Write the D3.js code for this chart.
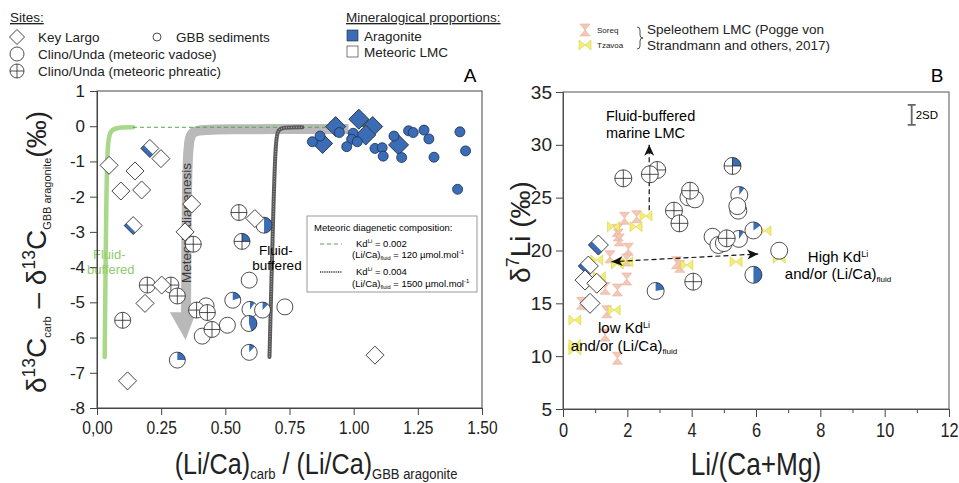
<html>
<head>
<title>Li isotopes and carbon</title>
<script src="https://cdn.jsdelivr.net/npm/d3@7/dist/d3.min.js"></script>
<style>
body { margin: 0; background: #fff; }
svg { display: block; font-family: "Liberation Sans", Arial, sans-serif; }
.tick line { stroke: #444; }
.domain { stroke: #444; }
</style>
</head>
<body>
<svg width="959" height="483"></svg>
<script>

var svg = d3.select("svg");

// ---- panel A data: [x, y, aragonite fraction]
var keyLargoA = [[0.047,-1.11,0],[0.206,-0.63,0.35],[0.249,-0.92,0],[0.148,-1.27,0],[0.093,-1.84,0],
  [0.174,-1.81,0],[0.141,-2.82,0.25],[0.369,-2.21,0],[0.343,-3.0,0],[0.615,-2.62,0],[0.252,-4.51,0],
  [0.187,-5.03,0],[0.119,-7.23,0],[1.083,-6.50,0],
  [0.93,-0.01,1],[1.02,0.20,1],[0.879,-0.49,1],[1.074,-0.01,1],[1.047,-0.25,1],[1.175,-0.53,1]];
var gbbA = [[0.839,-0.44],[0.869,-0.28],[0.944,-0.18],[0.998,-0.20],[0.992,-0.37],[1.014,-0.44],
  [0.973,-0.58],[1.083,-0.63],[1.111,-0.61],[1.115,-0.85],[1.157,-0.28],[1.187,-0.89],[1.214,-0.13],
  [1.232,-0.18],[1.274,-0.11],[1.293,-0.36],[1.313,-0.88],[1.414,-0.16],[1.436,-0.70],[1.405,-1.79]];
var vadoseA = [[0.651,-2.81,0.5],[0.593,-4.37,0],[0.529,-4.94,0.2],[0.596,-5.20,0.1],[0.645,-5.22,0.12],
  [0.732,-5.13,0],[0.592,-5.60,0.45],[0.508,-5.65,0],[0.425,-5.10,0],[0.41,-5.96,0],[0.593,-6.42,0.12],
  [0.313,-6.64,0.25]];
var phreaticA = [[0.553,-2.45,0],[0.375,-3.35,0],[0.565,-3.27,0.25],[0.196,-4.51,0],[0.288,-4.51,0],
  [0.313,-4.82,0],[0.10,-5.51,0],[0.388,-5.22,0],[0.43,-5.29,0],[0.448,-5.77,0]];

// model curves (panel A)
var kd002Thick = [[0.030,-6.55],[0.036,-2.0],[0.041,-0.5],[0.050,-0.15],[0.070,-0.04],[0.14,-0.03]];
var kd002Dash = [[0.14,-0.03],[0.95,-0.03]];
var kd004 = [[0.672,-6.55],[0.688,-2.0],[0.696,-0.5],[0.703,-0.12],[0.72,-0.03],[0.80,-0.03]];
var diagenesisArrow = [[0.98,-0.08],[0.45,-0.08],[0.37,-0.12],[0.35,-0.4],[0.347,-5.3]];
var arrowHead = [[0.284,-5.28],[0.386,-5.28],[0.345,-6.07]];

var xTicksA = [0, 0.25, 0.5, 0.75, 1.0, 1.25, 1.5];
var xTickLabelsA = ["0,00","0.25","0.50","0.75","1.00","1.25","1.50"];
var yTicksA = [1,0,-1,-2,-3,-4,-5,-6,-7,-8];

// ---- panel B data
var keyLargoB = [[1.10,20.52,0.35],[0.787,18.53,0.25],[0.684,17.2,0],[1.05,16.9,0],[0.84,15.0,0]];
var vadoseB = [[3.90,25.03,0],[4.10,24.84,0],[4.65,21.3,0],[4.83,20.52,0],[5.48,25.25,0.1],
  [5.45,23.77,0],[5.42,24.2,0],[6.72,19.98,0],[5.92,17.7,0.5],[2.88,16.17,0.22],
  [5.0,20.7,0.3],[5.47,21.1,0.1],[5.92,21.9,0.15]];
var phreaticB = [[1.875,26.83,0],[2.93,27.62,0],[2.70,27.21,0],[3.95,25.66,0],[3.45,23.77,0],
  [3.62,22.57,0],[5.09,21.15,0],[5.27,28.0,0.25],[4.05,17.05,0]];
var soreqB = [[1.91,23.05],[2.29,23.2],[1.72,21.47],[1.69,21.9],[1.75,21.0],[1.46,19.4],[2.03,20.12],
  [1.98,19.1],[3.53,18.85],[3.63,18.5],[1.31,16.42],[1.69,16.26],[1.98,17.3],[0.58,15.0],[1.36,14.2],
  [1.31,12.0],[1.69,9.8]];
var tzavoaB = [[1.57,22.25],[2.27,22.25],[2.58,23.27],[1.05,19.1],[1.69,18.72],[1.98,18.94],[3.85,18.63],
  [5.38,18.94],[1.13,17.52],[1.59,14.37],[0.37,13.42],[0.37,10.59],[0.37,11.1],[6.28,21.87],[6.72,19.26]];
var upArrowB = [[2.68,23.8],[2.68,30.0]];
var sideArrowB = [[1.51,18.94],[6.07,19.67]];
var sd2 = {x: 10.84, y: 32.83, half: 0.95};

var xTicksB = [0,2,4,6,8,10,12];
var xMinorB = [1,3,5,7,9,11];
var yTicksB = [5,10,15,20,25,30,35];

var blue = "#3a6db5";
var narrow = "scale(0.82,1)";

// scales
var xA = d3.scaleLinear().domain([0,1.5]).range([97,482]);
var yA = d3.scaleLinear().domain([-8,1]).range([408,91]);
var xB = d3.scaleLinear().domain([0,12]).range([563,949]);
var yB = d3.scaleLinear().domain([5,35]).range([409,92]);

// rich text helper: parts = [text, size, shift(px, negative = up)]
function rich(sel, parts) {
  var prev = 0;
  parts.forEach(function (p) {
    sel.append("tspan").attr("font-size", p[1]).attr("dy", (p[2] || 0) - prev).text(p[0]);
    prev = p[2] || 0;
  });
  return sel;
}

// ---- symbol drawing
var arc = d3.arc().innerRadius(0);
function circleSym(g, x, y, r, f, cross) {
  var s = g.append("g").attr("transform", "translate(" + x + "," + y + ")");
  s.append("circle").attr("r", r).attr("fill", "white");
  if (f > 0) s.append("path").attr("d", arc({outerRadius: r, startAngle: 0, endAngle: 2 * Math.PI * f})).attr("fill", blue);
  if (cross) {
    s.append("line").attr("x1", -r).attr("x2", r).attr("stroke", "#222").attr("stroke-width", 0.8);
    s.append("line").attr("y1", -r).attr("y2", r).attr("stroke", "#222").attr("stroke-width", 0.8);
  }
  s.append("circle").attr("r", r).attr("fill", "none").attr("stroke", "#222").attr("stroke-width", 0.8);
}
function diamondSym(g, x, y, h, f) {
  var side = h * Math.SQRT2;
  var s = g.append("g").attr("transform", "translate(" + x + "," + y + ") rotate(45)");
  s.append("rect").attr("x", -side/2).attr("y", -side/2).attr("width", side).attr("height", side).attr("fill", "white");
  if (f > 0) s.append("rect").attr("x", -side/2).attr("y", side/2 - side*f).attr("width", side).attr("height", side*f).attr("fill", blue);
  s.append("rect").attr("x", -side/2).attr("y", -side/2).attr("width", side).attr("height", side)
    .attr("fill", "none").attr("stroke", "#222").attr("stroke-width", 0.8);
}
function soreqSym(g, x, y) {
  g.append("path")
    .attr("d", "M" + (x-5) + "," + (y-6) + "H" + (x+5) + "L" + x + "," + y + "Z" +
               "M" + (x-5) + "," + (y+6) + "H" + (x+5) + "L" + x + "," + y + "Z")
    .attr("fill", "#f4c8b6").attr("stroke", "#e9ae98").attr("stroke-width", 0.6);
}
function tzavoaSym(g, x, y) {
  g.append("path")
    .attr("d", "M" + (x-6) + "," + (y-5) + "V" + (y+5) + "L" + x + "," + y + "Z" +
               "M" + (x+6) + "," + (y-5) + "V" + (y+5) + "L" + x + "," + y + "Z")
    .attr("fill", "#f2ef78").attr("stroke", "#d9d24a").attr("stroke-width", 0.6);
}

var lineA = d3.line().x(function (d) { return xA(d[0]); }).y(function (d) { return yA(d[1]); });
var lineB = d3.line().x(function (d) { return xB(d[0]); }).y(function (d) { return yB(d[1]); });

// =================== PANEL A ===================
var gA = svg.append("g");

gA.append("path").attr("d", lineA.curve(d3.curveBasis)(diagenesisArrow)).attr("fill", "none")
  .attr("stroke", "#b9b9b9").attr("stroke-width", 10);
gA.append("path").attr("d", lineA.curve(d3.curveLinear)(arrowHead) + "Z").attr("fill", "#b9b9b9");
gA.append("text").attr("transform", "translate(" + (xA(0.347) + 5) + "," + yA(-2.75) + ") rotate(-90)")
  .attr("text-anchor", "middle").attr("font-size", 13.5).attr("fill", "#3a3a3a").text("Meteoric diagenesis");

gA.append("path").attr("d", lineA.curve(d3.curveBasis)(kd002Thick)).attr("fill", "none")
  .attr("stroke", "#a9d88b").attr("stroke-width", 4.5).attr("stroke-linecap", "round");
gA.append("path").attr("d", lineA.curve(d3.curveLinear)(kd002Dash)).attr("fill", "none")
  .attr("stroke", "#4fa944").attr("stroke-width", 1).attr("stroke-dasharray", "4,3");
gA.append("path").attr("d", lineA.curve(d3.curveBasis)(kd004)).attr("fill", "none")
  .attr("stroke", "#5a5a5a").attr("stroke-width", 4).attr("stroke-linecap", "round");
gA.append("path").attr("d", lineA.curve(d3.curveBasis)(kd004)).attr("fill", "none")
  .attr("stroke", "#aaa").attr("stroke-width", 1).attr("stroke-dasharray", "1,1.5");

// labels on curves
gA.append("text").attr("x", 93).attr("y", 259).attr("fill", "#8fcc6a").attr("font-size", 13).text("Fluid-");
gA.append("text").attr("x", 87).attr("y", 274).attr("fill", "#8fcc6a").attr("font-size", 13).text("buffered");
gA.append("text").attr("x", 276).attr("y", 255).attr("text-anchor", "middle").attr("font-size", 13.5).text("Fluid-");
gA.append("text").attr("x", 277).attr("y", 270).attr("text-anchor", "middle").attr("font-size", 13.5).text("buffered");

// points
vadoseA.forEach(function (d) { circleSym(gA, xA(d[0]), yA(d[1]), 8, d[2], false); });
phreaticA.forEach(function (d) { circleSym(gA, xA(d[0]), yA(d[1]), 8, d[2], true); });
keyLargoA.forEach(function (d) { diamondSym(gA, xA(d[0]), yA(d[1]), d[2] == 1 ? 10 : 9, d[2]); });
gbbA.forEach(function (d) {
  gA.append("circle").attr("cx", xA(d[0])).attr("cy", yA(d[1])).attr("r", 5)
    .attr("fill", blue).attr("stroke", "#1d2f55").attr("stroke-width", 0.8);
});

// axes A
gA.append("g").attr("transform", "translate(0,408)")
  .call(d3.axisBottom(xA).tickValues(xTicksA).tickSize(7).tickPadding(6).tickFormat(function (d, i) { return xTickLabelsA[i]; }))
  .call(function (g) { g.selectAll("text").attr("transform", narrow).attr("font-size", 19).attr("fill", "#222"); });
gA.append("g").attr("transform", "translate(97,0)")
  .call(d3.axisLeft(yA).tickValues(yTicksA).tickSize(7).tickPadding(5).tickFormat(function (d) { return String(d).replace("\u2212", "-"); }))
  .call(function (g) { g.selectAll("text").attr("font-size", 17).attr("fill", "#222"); });
gA.append("rect").attr("x", 97).attr("y", 91).attr("width", 385).attr("height", 317)
  .attr("fill", "none").attr("stroke", "#444");
gA.append("text").attr("x", 470).attr("y", 82).attr("font-size", 19).attr("text-anchor", "middle").text("A");

// legend box in A
var lb = gA.append("g");
lb.append("rect").attr("x", 307).attr("y", 216).attr("width", 170).attr("height", 76).attr("fill", "white").attr("stroke", "#999");
lb.append("text").attr("x", 314).attr("y", 231).attr("font-size", 9.5).text("Meteoric diagenetic composition:");
lb.append("line").attr("x1", 320).attr("x2", 342).attr("y1", 244).attr("y2", 244).attr("stroke", "#4fa944").attr("stroke-dasharray", "4,3");
rich(lb.append("text").attr("x", 356).attr("y", 247), [["Kd", 9.5], ["Li", 6, -4], [" = 0.002", 9.5]]);
rich(lb.append("text").attr("x", 352).attr("y", 258), [["(Li/Ca)", 9.5], ["fluid", 5.5, 2], [" = 120 \u00b5mol.mol", 9.5], ["-1", 6, -4]]);
lb.append("line").attr("x1", 320).attr("x2", 342).attr("y1", 272).attr("y2", 272).attr("stroke", "#333").attr("stroke-width", 1.3).attr("stroke-dasharray", "1,0.8");
rich(lb.append("text").attr("x", 356).attr("y", 275), [["Kd", 9.5], ["Li", 6, -4], [" = 0.004", 9.5]]);
rich(lb.append("text").attr("x", 352).attr("y", 287), [["(Li/Ca)", 9.5], ["fluid", 5.5, 2], [" = 1500 \u00b5mol.mol", 9.5], ["-1", 6, -4]]);

// axis titles A
rich(gA.append("g").attr("transform", "translate(316,474) scale(0.84,1)").append("text").attr("text-anchor", "middle").attr("fill", "#222"),
  [["(Li/Ca)", 30], ["carb", 15.5, 5], [" / (Li/Ca)", 30], ["GBB aragonite", 15.5, 5]]);
rich(gA.append("text").attr("transform", "translate(46,252) rotate(-90)").attr("text-anchor", "middle").attr("fill", "#222"),
  [["\u03b4", 28], ["13", 17.5, -11], ["C", 28], ["carb", 11, 5], [" \u2013 \u03b4", 28], ["13", 17.5, -11], ["C", 28], ["GBB aragonite", 11, 5], ["(\u2030)", 28]]);

// =================== PANEL B ===================
var gB = svg.append("g");

gB.append("g").attr("transform", "translate(0,409)")
  .call(d3.axisBottom(xB).tickValues(xMinorB).tickSize(4).tickFormat(""))
  .call(function (g) { g.select(".domain").remove(); g.selectAll("line").attr("stroke", "#888"); });
gB.append("g").attr("transform", "translate(0,409)")
  .call(d3.axisBottom(xB).tickValues(xTicksB).tickSize(8).tickPadding(6))
  .call(function (g) { g.selectAll("text").attr("transform", narrow).attr("font-size", 20).attr("fill", "#222"); g.selectAll("line").attr("stroke", "#888"); g.select(".domain").attr("stroke", "#999"); });
gB.append("g").attr("transform", "translate(563,0)")
  .call(d3.axisLeft(yB).tickValues(yTicksB).tickSize(7).tickPadding(4))
  .call(function (g) { g.selectAll("text").attr("font-size", 19).attr("fill", "#222"); g.selectAll("line").attr("stroke", "#888"); });
gB.append("rect").attr("x", 563).attr("y", 92).attr("width", 386).attr("height", 317)
  .attr("fill", "none").attr("stroke", "#555");
gB.append("text").attr("x", 937).attr("y", 82).attr("font-size", 19).attr("text-anchor", "middle").text("B");

soreqB.forEach(function (d) { soreqSym(gB, xB(d[0]), yB(d[1])); });
tzavoaB.forEach(function (d) { tzavoaSym(gB, xB(d[0]), yB(d[1])); });

// arrows
var defs = svg.append("defs");
defs.append("marker").attr("id", "ah").attr("viewBox", "-12 -6 14 12").attr("refX", 0).attr("refY", 0)
  .attr("markerWidth", 14).attr("markerHeight", 12).attr("markerUnits", "userSpaceOnUse").attr("orient", "auto-start-reverse")
  .append("path").attr("d", "M0,0L-11,-5L-8,0L-11,5Z").attr("fill", "#111");
gB.append("path").attr("d", lineB(upArrowB)).attr("stroke", "#111").attr("stroke-width", 1.2)
  .attr("stroke-dasharray", "5,3").attr("fill", "none").attr("marker-end", "url(#ah)");
gB.append("path").attr("d", lineB(sideArrowB)).attr("stroke", "#111").attr("stroke-width", 1.2)
  .attr("stroke-dasharray", "5,3").attr("fill", "none").attr("marker-end", "url(#ah)").attr("marker-start", "url(#ah)");

vadoseB.forEach(function (d) { circleSym(gB, xB(d[0]), yB(d[1]), 8.5, d[2], false); });
phreaticB.forEach(function (d) { circleSym(gB, xB(d[0]), yB(d[1]), 8.5, d[2], true); });
keyLargoB.forEach(function (d) { diamondSym(gB, xB(d[0]), yB(d[1]), 10, d[2]); });

// 2SD bar
var sx = xB(sd2.x), sy1 = yB(sd2.y + sd2.half), sy2 = yB(sd2.y - sd2.half);
gB.append("path").attr("d", "M" + (sx-4) + "," + sy1 + "h8M" + sx + "," + sy1 + "V" + sy2 + "M" + (sx-4) + "," + sy2 + "h8")
  .attr("stroke", "#666").attr("stroke-width", 1.8).attr("fill", "none");
gB.append("text").attr("x", sx + 4).attr("y", (sy1 + sy2) / 2 + 4).attr("font-size", 11.5).text("2SD");

// annotations
gB.append("text").attr("x", 606).attr("y", 121).attr("font-size", 14.5).text("Fluid-buffered");
gB.append("text").attr("x", 606).attr("y", 138).attr("font-size", 14.5).text("marine LMC");
rich(gB.append("text").attr("x", 838).attr("y", 262).attr("text-anchor", "middle"), [["High Kd", 15], ["Li", 9, -5]]);
rich(gB.append("text").attr("x", 838).attr("y", 279).attr("text-anchor", "middle"), [["and/or (Li/Ca)", 15], ["fluid", 8, 3]]);
rich(gB.append("text").attr("x", 624).attr("y", 333).attr("text-anchor", "middle"), [["low Kd", 15], ["Li", 9, -5]]);
rich(gB.append("text").attr("x", 624).attr("y", 351).attr("text-anchor", "middle"), [["and/or (Li/Ca)", 15], ["fluid", 8, 3]]);

// titles B
gB.append("g").attr("transform", "translate(756,475) " + narrow).append("text").attr("text-anchor", "middle")
  .attr("font-size", 32).attr("fill", "#222").text("Li/(Ca+Mg)");
rich(gB.append("text").attr("transform", "translate(530,232) rotate(-90)").attr("text-anchor", "middle").attr("fill", "#222"),
  [["\u03b4", 28], ["7", 18, -11], ["Li (\u2030)", 28]]);

// =================== top legends ===================
var lg = svg.append("g").attr("font-size", 13.5).attr("fill", "#222");
lg.append("text").attr("x", 10).attr("y", 22).attr("text-decoration", "underline").text("Sites:");
diamondSym(lg, 17, 37, 7.5, 0);
lg.append("text").attr("x", 38).attr("y", 42).text("Key Largo");
lg.append("circle").attr("cx", 157).attr("cy", 37).attr("r", 4).attr("fill", "white").attr("stroke", "#222").attr("stroke-width", 0.8);
lg.append("text").attr("x", 176).attr("y", 42).text("GBB sediments");
circleSym(lg, 17, 54, 7, 0, false);
lg.append("text").attr("x", 38).attr("y", 59).text("Clino/Unda (meteoric vadose)");
circleSym(lg, 17, 71, 7, 0, true);
lg.append("text").attr("x", 38).attr("y", 76).text("Clino/Unda (meteoric phreatic)");

lg.append("text").attr("x", 346).attr("y", 22).attr("text-decoration", "underline").text("Mineralogical proportions:");
lg.append("rect").attr("x", 347).attr("y", 30).attr("width", 11).attr("height", 11).attr("fill", blue).attr("stroke", "#222").attr("stroke-width", 0.6);
lg.append("text").attr("x", 364).attr("y", 41).text("Aragonite");
lg.append("rect").attr("x", 347).attr("y", 46).attr("width", 11).attr("height", 11).attr("fill", "white").attr("stroke", "#222").attr("stroke-width", 0.6);
lg.append("text").attr("x", 364).attr("y", 57).text("Meteoric LMC");

soreqSym(lg, 585, 30);
lg.append("text").attr("x", 597).attr("y", 33).attr("font-size", 8).text("Soreq");
tzavoaSym(lg, 585, 45);
lg.append("text").attr("x", 597).attr("y", 48).attr("font-size", 8).text("Tzavoa");
lg.append("path").attr("d", "M637,27q3,0 3,3v5q0,3 3,3q-3,0 -3,3v5q0,3 -3,3")
  .attr("fill", "none").attr("stroke", "#222").attr("stroke-width", 0.8);
lg.append("text").attr("x", 647).attr("y", 34).attr("font-size", 13.5).text("Speleothem LMC (Pogge von");
lg.append("text").attr("x", 647).attr("y", 50).attr("font-size", 13.5).text("Strandmann and others, 2017)");

</script>
</body>
</html>
